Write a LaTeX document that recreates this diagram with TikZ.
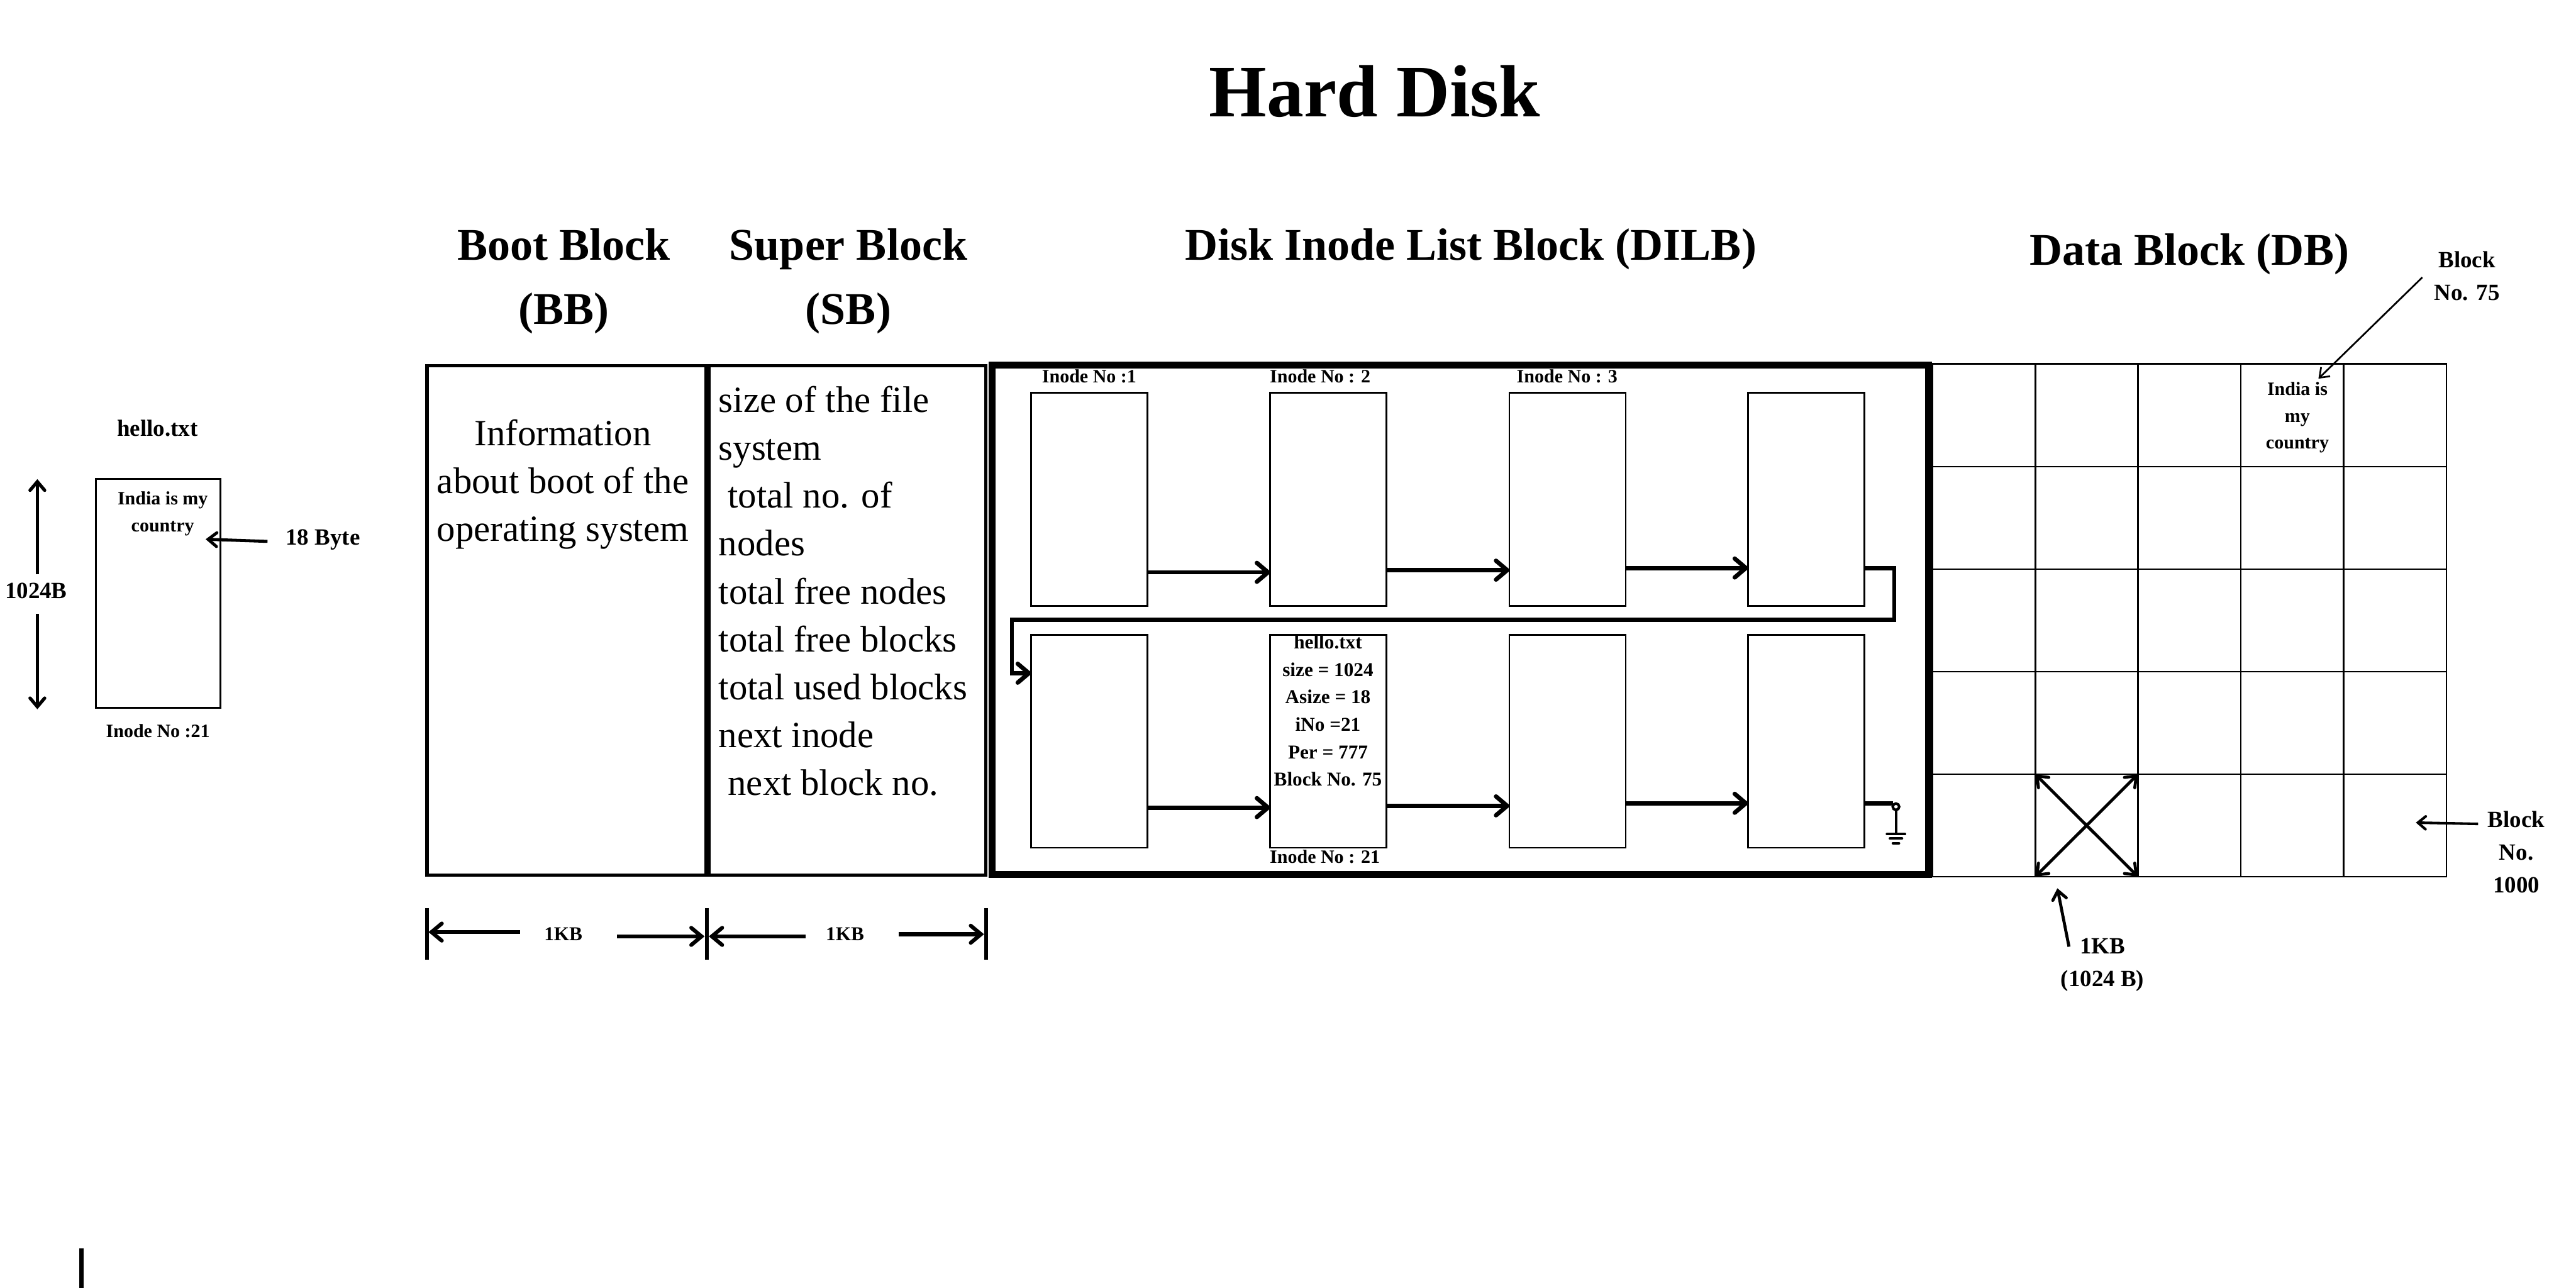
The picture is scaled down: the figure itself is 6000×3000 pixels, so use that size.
\documentclass[tikz,border=0pt]{standalone}
\usepackage{fontspec}
\setmainfont{Liberation Serif}
\usetikzlibrary{arrows.meta,calc}
\newcommand\myfs[2]{\fontsize{#1pt}{#2pt}\selectfont}
\begin{document}
\begin{tikzpicture}[x=0.01cm,y=-0.01cm,
  every node/.style={inner sep=0pt,outer sep=0pt},
  hd/.style={font=\myfs{30}{42.4}\bfseries,align=center,anchor=base},
  body/.style={font=\myfs{24.5}{31.5}},
  labA/.style={font=\myfs{15.4}{21.7}\bfseries,align=center,anchor=base},
  labB/.style={font=\myfs{12.5}{17.6}\bfseries,align=center,anchor=base},
  labC/.style={font=\myfs{13}{18.2}\bfseries,align=center,anchor=base},
  blk/.style={draw,line width=2.3pt,minimum height=11.86cm},
  ibox/.style={draw,line width=1.14pt,minimum width=2.71cm,minimum height=4.96cm},
  cell/.style={draw,line width=1.14pt,minimum width=2.394cm,minimum height=2.388cm},
  flow/.style={line width=2.85pt,-{Straight Barb[length=0.26cm,width=0.44cm,line join=round,line cap=round]}},
  arrA/.style={line width=2.2pt,-{Straight Barb[length=0.2cm,width=0.34cm,line cap=round]}},
  dimarr/.style={line width=2.56pt,-{Straight Barb[length=0.24cm,width=0.4cm,line cap=round]}},
  tick/.style={line width=2.56pt},
  arrThin/.style={line width=1.14pt,-{Straight Barb[length=0.2cm,width=0.3cm]}},
  arrMid/.style={line width=1.7pt,-{Straight Barb[length=0.18cm,width=0.3cm,line cap=round]}},
  arrB/.style={line width=2pt,-{Straight Barb[length=0.2cm,width=0.32cm,line cap=round]}},
  diag/.style={line width=2pt,{Straight Barb[length=0.22cm,width=0.34cm,line cap=round]}-{Straight Barb[length=0.22cm,width=0.34cm,line cap=round]}},
  gnd/.style={line width=1.7pt,line cap=round}
]
\useasboundingbox (0,0) rectangle (6000,3000);

% title and headings
\node[font=\myfs{49}{58}\bfseries,anchor=base] (title) at (3202,271) {Hard Disk};
\node[hd] (hbb) at (1313,755) {Boot Block\\(BB)};
\node[hd] (hsb) at (1976,755) {Super Block\\(SB)};
\node[hd] (hdilb) at (3426,606) {Disk Inode List Block (DILB)};
\node[hd] (hdb) at (5100,618) {Data Block (DB)};

% boot block and super block
\node[blk,minimum width=6.5cm] (bb) at (1320,1445) {};
\node[blk,minimum width=6.44cm] (sb) at (1974,1445) {};
\node[body,align=center,anchor=base] (bbtxt) at (1311,1260) {Information\\about boot of the\\operating system};
\node[font=\myfs{24.5}{31.75},align=left,anchor=base west] (sbtxt) at (1674,1853) {size of the file\\system\\\hspace*{0.25em}total no. of\\nodes\\total free nodes\\total free blocks\\total used blocks\\next inode\\\hspace*{0.25em}next block no.};

% DILB
\node[draw,line width=4.55pt,minimum width=21.8cm,minimum height=11.85cm] (dilb) at (3401,1443.5) {};
\node[ibox] (t1) at (2537,1163) {};
\node[ibox] (t2) at (3094,1163) {};
\node[ibox] (t3) at (3651,1163) {};
\node[ibox] (t4) at (4207,1163) {};
\node[ibox] (u1) at (2537,1726.5) {};
\node[ibox] (u2) at (3094,1726.5) {};
\node[ibox] (u3) at (3651,1726.5) {};
\node[ibox] (u4) at (4207,1726.5) {};
\node[labB] (n1) at (2537,892) {Inode No :1};
\node[labB] (n2) at (3075,892) {Inode No : 2};
\node[labB] (n3) at (3650,892) {Inode No : 3};
\node[labB] (n21) at (3086,2010) {Inode No : 21};
\node[labC] (h21) at (3093,1831) {hello.txt\\size = 1024\\Asize = 18\\iNo =21\\Per = 777\\Block No. 75};

\draw[flow] ($(t1.east)+(0,170)$) -- ($(t2.west)+(0,170)$);
\draw[flow] ($(t2.east)+(0,165)$) -- ($(t3.west)+(0,165)$);
\draw[flow] ($(t3.east)+(0,160)$) -- ($(t4.west)+(0,160)$);
\coordinate (wr) at (4412,1443);
\coordinate (wl) at (2357,1568);
\draw[flow] ($(t4.east)+(0,160)$) -| (wr) -| (wl) -- ($(u1.west)+(0,-158.5)$);
\draw[flow] ($(u1.east)+(0,154.5)$) -- ($(u2.west)+(0,154.5)$);
\draw[flow] ($(u2.east)+(0,150.5)$) -- ($(u3.west)+(0,150.5)$);
\draw[flow] ($(u3.east)+(0,144.5)$) -- ($(u4.west)+(0,144.5)$);

% ground
\coordinate (gw) at (4409,1871);
\coordinate (gc) at (4416,1879);
\coordinate (gt) at (4416,1887);
\coordinate (gb) at (4416,1943);
\draw[line width=2.85pt] ($(u4.east)+(0,144.5)$) -- (gw);
\draw[line width=1.7pt] (gc) circle[radius=0.075cm];
\draw[line width=1.7pt] (gt) -- (gb);
\draw[gnd] ($(gb)+(-21,0)$) -- ($(gb)+(21,0)$);
\draw[gnd] ($(gb)+(-14,10)$) -- ($(gb)+(14,10)$);
\draw[gnd] ($(gb)+(-7,21)$) -- ($(gb)+(7,21)$);

% data block grid
\foreach \r in {1,...,5}{
  \foreach \c in {1,...,5}{
    \node[cell] (c-\r-\c) at ({4501+239.4*(\c-0.5)},{848+238.8*(\r-0.5)}) {};
  }
}
\node[labB] (dbtxt) at (5351,1045) {India is\\my\\country};
\node[labA] (lb75) at (5746,700) {Block\\No. 75};
\node[labA] (lb1000) at (5861,2080) {Block\\No.\\1000};
\node[labA] (l1kb) at (4897,2297) {1KB\\(1024 B)};
\coordinate (s75) at (5642,646);
\coordinate (e75) at (5400,882);
\draw[arrThin] (s75) -- (e75);
\coordinate (s1000) at (5772,1919);
\coordinate (e1000) at (5627,1916);
\draw[arrMid] (s1000) -- (e1000);
\draw[diag] (c-5-2.north west) -- (c-5-2.south east);
\draw[diag] (c-5-2.south west) -- (c-5-2.north east);
\coordinate (s1kb) at (4819,2205);
\coordinate (e1kb) at (4792,2069);
\draw[arrB] (s1kb) -- (e1kb);

% left file
\node[labA] (fname) at (367,1016) {hello.txt};
\node[draw,line width=1.14pt,minimum width=2.89cm,minimum height=5.33cm] (file) at (368.5,1382.5) {};
\node[labB] (ftxt) at (379,1238) {India is my\\country};
\node[labB] (fino) at (368,1718) {Inode No :21};
\node[labA] (l1024) at (84,1394) {1024B};
\node[labA] (l18) at (752,1269) {18 Byte};
\coordinate (s1024a) at (87,1338);
\coordinate (e1024a) at (87,1116);
\coordinate (s1024b) at (87,1430);
\coordinate (e1024b) at (87,1652);
\draw[arrA] (s1024a) -- (e1024a);
\draw[arrA] (s1024b) -- (e1024b);
\coordinate (s18) at (623,1261);
\coordinate (e18) at (479,1256);
\draw[arrB] (s18) -- (e18);

% 1KB dimensions
\coordinate (k1t) at (994,2115);  \coordinate (k1b) at (994,2236);
\coordinate (k2t) at (1646,2115); \coordinate (k2b) at (1646,2236);
\coordinate (k3t) at (2297,2115); \coordinate (k3b) at (2297,2236);
\draw[tick] (k1t) -- (k1b);
\draw[tick] (k2t) -- (k2b);
\draw[tick] (k3t) -- (k3b);
\node[font=\myfs{13}{16}\bfseries,anchor=base] (kb1) at (1312,2190) {1KB};
\node[font=\myfs{13}{16}\bfseries,anchor=base] (kb2) at (1968,2190) {1KB};
\coordinate (d1s) at (1211,2171); \coordinate (d1e) at (998,2171);
\coordinate (d2s) at (1437,2181); \coordinate (d2e) at (1641,2181);
\coordinate (d3s) at (1877,2181); \coordinate (d3e) at (1651,2181);
\coordinate (d4s) at (2093,2176); \coordinate (d4e) at (2292,2176);
\draw[dimarr] (d1s) -- (d1e);
\draw[dimarr] (d2s) -- (d2e);
\draw[dimarr] (d3s) -- (d3e);
\draw[dimarr] (d4s) -- (d4e);

% stray line bottom left
\coordinate (bl1) at (190,2907);
\coordinate (bl2) at (190,3000);
\draw[line width=2.85pt] (bl1) -- (bl2);
\end{tikzpicture}
\end{document}
